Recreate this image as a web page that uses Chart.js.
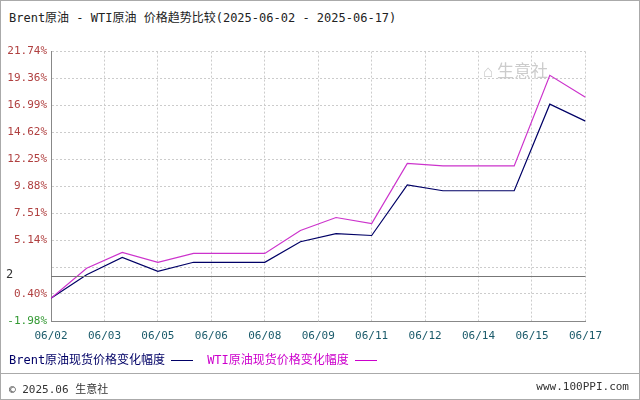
<!DOCTYPE html>
<html><head><meta charset="utf-8">
<script src="https://cdn.jsdelivr.net/npm/chart.js@4"></script>
<style>
body{margin:0;background:#fff;font-family:"DejaVu Sans Mono","Noto Sans CJK SC",monospace;}
#wrap{position:relative;width:638px;height:398px;border:1px solid #aaa;overflow:hidden}
#title{position:absolute;left:8px;top:7px;font-size:12px;color:#222}
#cv{position:absolute;left:0;top:40px}
#legend{position:absolute;left:8px;top:349px;font-size:12px;color:#000066}
#legend span.l{display:inline-block;width:22px;border-top:1px solid;vertical-align:middle;margin:0 14px 0 6px}
#foot{position:absolute;left:0;top:372px;width:638px;border-top:1px solid #aaa;font-size:11px;color:#333;height:26px}
#foot .a{position:absolute;left:8px;top:6px}
#foot .b{position:absolute;right:10px;top:6px}
#wm{position:absolute;left:482px;top:56px;color:#ccc;font-size:17px;font-family:"Noto Sans CJK SC"}
</style></head><body>
<div id="wrap">
<div id="title">Brent原油 - WTI原油 价格趋势比较(2025-06-02 - 2025-06-17)</div>
<canvas id="cv" width="610" height="310"></canvas>
<div id="wm">⌂ 生意社</div>
<div id="legend">Brent原油现货价格变化幅度<span class="l" style="border-color:#000066"></span><span style="color:#cc00cc">WTI原油现货价格变化幅度</span><span class="l" style="border-color:#cc00cc"></span></div>
<div id="foot"><span class="a">© 2025.06 生意社</span><span class="b">www.100PPI.com</span></div>
</div>
<script>
// daily points 06/02 .. 06/17
const brent = [0.03, 2.1, 3.62, 2.4, 3.19, 3.19, 3.19, 5.0, 5.72, 5.55, 10.0, 9.49, 9.49, 9.49, 17.11, 15.62];
const wti = [0.03, 2.66, 4.06, 3.19, 3.97, 3.97, 3.97, 5.99, 7.13, 6.6, 11.9, 11.68, 11.68, 11.68, 19.65, 17.72];
const xLabels = ['06/02','06/03','06/05','06/06','06/08','06/09','06/11','06/12','06/14','06/15','06/17'];
const yTicks = [-1.98, 0.40, 2.77, 5.14, 7.51, 9.88, 12.25, 14.62, 16.99, 19.36, 21.74];
const yLabels = ['-1.98%','0.40%','','5.14%','7.51%','9.88%','12.25%','14.62%','16.99%','19.36%','21.74%'];
const baseLine = 2;

const pts = arr => arr.map((v, i) => ({ x: i, y: v }));

const baseLinePlugin = {
  id: 'baseLine',
  afterDatasetsDraw(chart) {
    const { ctx, chartArea: a, scales } = chart;
    const y = Math.round(scales.y.getPixelForValue(baseLine)) + 0.5;
    ctx.save();
    ctx.strokeStyle = '#777';
    ctx.lineWidth = 1;
    ctx.beginPath(); ctx.moveTo(a.left, y); ctx.lineTo(a.right, y); ctx.stroke();
    ctx.fillStyle = '#333';
    ctx.font = '12px "DejaVu Sans Mono"';
    ctx.textBaseline = 'middle';
    ctx.fillText('2', 5, y - 2);
    ctx.restore();
  }
};

new Chart(document.getElementById('cv'), {
  type: 'line',
  data: {
    datasets: [
      { data: pts(wti), borderColor: '#cc33cc', borderWidth: 1.2, pointRadius: 0, tension: 0 },
      { data: pts(brent), borderColor: '#000066', borderWidth: 1.2, pointRadius: 0, tension: 0 }
    ]
  },
  options: {
    responsive: false,
    animation: false,
    layout: { padding: { top: 9, right: 0 } },
    plugins: { legend: { display: false }, tooltip: { enabled: false } },
    scales: {
      x: {
        type: 'linear', min: 0, max: 15,
        afterBuildTicks: s => { s.ticks = xLabels.map((_, i) => ({ value: i * 1.5 })); },
        afterFit: s => { s.height = 30; },
        ticks: {
          callback: (v, i) => xLabels[i], color: '#1a5a6a', maxRotation: 0, padding: 9,
          font: { family: 'DejaVu Sans Mono', size: 11 }
        },
        grid: { color: '#ccc', drawTicks: false },
        border: { color: '#888', dash: [2, 2] }
      },
      y: {
        min: -1.98, max: 21.74,
        afterBuildTicks: s => { s.ticks = yTicks.map(v => ({ value: v })); },
        afterFit: s => { s.width = 50; },
        ticks: {
          callback: (v, i) => yLabels[i],
          color: c => c.index === 0 ? '#339933' : '#b04040',
          padding: 4,
          font: { family: 'DejaVu Sans Mono', size: 11 }
        },
        grid: { color: '#ccc', drawTicks: false },
        border: { color: '#888', dash: [2, 2] }
      }
    }
  },
  plugins: [baseLinePlugin]
});
</script>
</body></html>
